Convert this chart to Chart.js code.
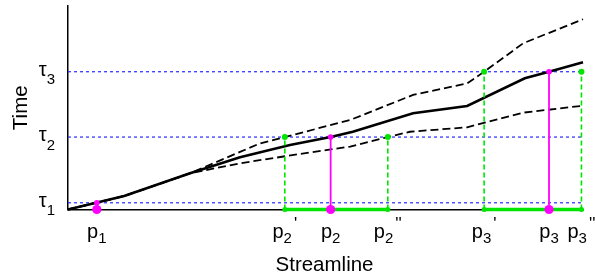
<!DOCTYPE html>
<html>
<head>
<meta charset="utf-8">
<script src="https://cdn.jsdelivr.net/npm/chart.js@4/dist/chart.umd.min.js"></script>
<style>
html,body{margin:0;padding:0;background:#fff;}
#wrap{width:595px;height:278px;}
</style>
</head>
<body>
<div id="wrap"><canvas id="c" width="595" height="278"></canvas></div>
<script>
// ---- data (abstract units: x 0..100 along streamline, y 0..100 in time) ----
const xTitle = "Streamline";
const yTitle = "Time";

const tauValues = [3.3, 35.6, 67.7];
const tauLabels = ["τ_1", "τ_2", "τ_3"];

const pValues = [5.6, 42.1, 51.0, 62.1, 80.8, 93.4, 99.7];
const pLabels = ["p_1", "p_2'", "p_2", "p_2''", "p_3'", "p_3", "p_3''"];

const meanX  = [0, 10.9, 23.7, 33.4, 43.1, 51.0, 55.3, 67.0, 77.5, 88.7, 93.4, 100];
const meanY  = [0, 6.6, 17.8, 25.7, 31.7, 35.6, 38.2, 47.3, 50.9, 64.5, 67.7, 72.3];

const upperX = [0, 10.9, 23.7, 33.4, 37.3, 42.1, 54.8, 67.0, 77.5, 80.8, 88.4, 100];
const upperY = [0, 6.6, 17.8, 28.3, 32.5, 35.6, 44.0, 56.3, 62.0, 67.7, 81.7, 93.5];

const lowerX = [0, 10.9, 23.7, 33.4, 45.0, 54.8, 62.1, 66.4, 77.5, 88.4, 100];
const lowerY = [0, 6.6, 17.8, 22.7, 27.3, 30.9, 35.6, 38.2, 40.4, 47.6, 51.0];

// seed points p_i (magenta) reaching tau_i
const seedX   = [5.6, 51.0, 93.4];
const seedTop = [3.3, 35.6, 67.7];

// interval bounds p_i', p_i'' (green) reaching tau_i
const boundX   = [42.1, 62.1, 80.8, 99.7];
const boundTop = [35.6, 35.6, 67.7, 67.7];

// intervals on the streamline
const intervalStart = [42.1, 80.8];
const intervalEnd   = [62.1, 99.7];

// ---- build chart ----
const FONT = '"Liberation Sans", Arial, Helvetica, sans-serif';
const GREEN = '#00e600';
const MAGENTA = '#ff00ff';
const BLUE = '#2a2aff';

const zip = (xs, ys) => xs.map((x, i) => ({x: x, y: ys[i]}));

const datasets = [];
tauValues.forEach(t => {
  datasets.push({data: [{x: 0, y: t}, {x: 100, y: t}], borderColor: BLUE, borderWidth: 1.2, borderDash: [3, 3],
    pointRadius: 0, order: 20, clip: false});
});
datasets.push({data: zip(meanX, meanY), borderColor: '#000', borderWidth: 2.6, pointRadius: 0, tension: 0, order: 10, clip: false});
datasets.push({data: zip(upperX, upperY), borderColor: '#000', borderWidth: 1.8, borderDash: [8, 4], pointRadius: 0, tension: 0, order: 11, clip: false});
datasets.push({data: zip(lowerX, lowerY), borderColor: '#000', borderWidth: 1.8, borderDash: [8, 4], pointRadius: 0, tension: 0, order: 12, clip: false});

boundX.forEach((x, i) => {
  datasets.push({data: [{x: x, y: 0}, {x: x, y: boundTop[i]}], borderColor: GREEN, borderWidth: 1.6, borderDash: [5, 3],
    pointRadius: [2, 3], pointBackgroundColor: GREEN, pointBorderWidth: 0, order: 5, clip: false});
});
intervalStart.forEach((a, i) => {
  datasets.push({data: [{x: a, y: 0}, {x: intervalEnd[i], y: 0}], borderColor: GREEN, borderWidth: 3.5,
    pointRadius: 2.5, pointBackgroundColor: GREEN, pointBorderWidth: 0, order: 4, clip: false});
});
seedX.forEach((x, i) => {
  datasets.push({data: [{x: x, y: 0}, {x: x, y: seedTop[i]}], borderColor: MAGENTA, borderWidth: 1.8,
    pointRadius: [4.6, 2.8], pointBackgroundColor: MAGENTA, pointBorderWidth: 0, order: 1, clip: false});
});

function drawSubLabel(ctx, text, x, baseY, align, mainSize, subSize, subDrop) {
  const parts = text.split('_');
  const base = parts[0];
  const sub = parts[1].charAt(0);
  const primes = parts[1].slice(1);
  ctx.font = mainSize + 'px ' + FONT;
  const wb = ctx.measureText(base).width;
  ctx.font = subSize + 'px ' + FONT;
  const ws = ctx.measureText(sub).width;
  ctx.font = '17px ' + FONT;
  const wp = primes ? ctx.measureText(primes).width + 2 : 0;
  const total = wb + ws + wp;
  let x0 = x;
  if (align === 'center') x0 = x - total / 2;
  else if (align === 'right') x0 = x - total;
  ctx.textAlign = 'left';
  ctx.textBaseline = 'alphabetic';
  ctx.fillStyle = '#000';
  ctx.font = mainSize + 'px ' + FONT;
  ctx.fillText(base, x0, baseY);
  ctx.font = subSize + 'px ' + FONT;
  ctx.fillText(sub, x0 + wb, baseY + subDrop);
  if (primes) {
    ctx.font = '17px ' + FONT;
    ctx.fillText(primes, x0 + wb + ws + 2, baseY - 9);
  }
}

const labelPlugin = {
  id: 'labels',
  afterDraw(chart) {
    const ctx = chart.ctx;
    const area = chart.chartArea;
    const xs = chart.scales.x, ys = chart.scales.y;
    ctx.save();
    pValues.forEach((v, i) => {
      drawSubLabel(ctx, pLabels[i], xs.getPixelForValue(v), area.bottom + 28, 'center', 20, 15, 5);
    });
    tauValues.forEach((v, i) => {
      drawSubLabel(ctx, tauLabels[i], area.left - 13, ys.getPixelForValue(v) + 4, 'right', 20, 15, 8.5);
    });
    ctx.fillStyle = '#000';
    ctx.font = '20.5px ' + FONT;
    ctx.textAlign = 'center';
    ctx.textBaseline = 'alphabetic';
    ctx.fillText(xTitle, (area.left + area.right) / 2 - 1, area.bottom + 61);
    ctx.translate(26.5, (area.top + area.bottom) / 2);
    ctx.rotate(-Math.PI / 2);
    ctx.fillText(yTitle, 0, 0);
    ctx.restore();
  }
};

new Chart(document.getElementById('c'), {
  type: 'line',
  data: {datasets: datasets},
  options: {
    responsive: false,
    devicePixelRatio: 1,
    animation: false,
    events: [],
    layout: {padding: {top: 6, right: 12, left: 0, bottom: 0}},
    plugins: {legend: {display: false}, tooltip: {enabled: false}},
    scales: {
      x: {
        type: 'linear', min: 0, max: 100,
        grid: {display: false},
        border: {display: true, color: '#000', width: 1.5},
        ticks: {display: false},
        afterBuildTicks: s => { s.ticks = pValues.map(v => ({value: v})); },
        afterFit: s => { s.height = 68.5; }
      },
      y: {
        type: 'linear', min: 0, max: 100,
        grid: {display: false},
        border: {display: true, color: '#000', width: 1.5},
        ticks: {display: false},
        afterBuildTicks: s => { s.ticks = tauValues.map(v => ({value: v})); },
        afterFit: s => { s.width = 68; }
      }
    }
  },
  plugins: [labelPlugin]
});
</script>
</body>
</html>
